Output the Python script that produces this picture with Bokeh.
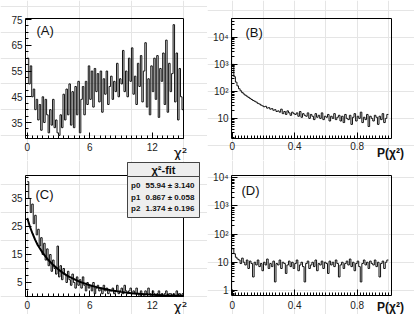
import math
import numpy as np
from bokeh.plotting import figure
from bokeh.layouts import gridplot
from bokeh.models import (FixedTicker, Label, BoxAnnotation, Range1d, LinearAxis, LogAxis)
from bokeh.embed import file_html
from bokeh.resources import INLINE

# ---------------- data ----------------
# (A) chi2 histogram, 105 bins over [0, 15]
hist_a = [
    60, 50, 57, 45, 48, 40, 44,
    36, 42, 32, 45, 35, 44, 38,
    31, 40, 34, 44, 33, 36, 31,
    30, 38, 33, 46, 36, 48, 38,
    50, 34, 47, 33, 49, 38, 51,
    31, 44, 49, 38, 51, 42, 57,
    44, 55, 41, 56, 47, 54, 43,
    55, 39, 52, 46, 55, 42, 49,
    53, 44, 51, 47, 58, 45, 52,
    50, 63, 47, 55, 45, 60, 51,
    64, 46, 53, 42, 58, 49, 61,
    43, 55, 66, 41, 52, 38, 57,
    47, 60, 44, 61, 37, 56, 51,
    62, 42, 67, 39, 58, 47, 54,
    73, 43, 62, 36, 56, 45, 40,
]
# (B) P(chi2) histogram, 100 bins over [0, 1]
hist_b = [
    1000, 350, 220, 160, 125, 105, 90, 80, 72, 66,
    60, 55, 50, 46, 43, 40, 36, 34, 31, 29,
    27, 28, 24, 25, 22, 23, 20, 21, 18, 19,
    17, 22, 15, 18, 14, 19, 16, 13, 17, 15,
    14, 16, 12, 18, 11, 15, 13, 12, 16, 10,
    14, 12, 9, 15, 11, 13, 10, 16, 9, 12,
    11, 14, 8, 12, 10, 15, 9, 11, 13, 8,
    12, 7, 14, 10, 9, 13, 6, 11, 15, 8,
    12, 10, 17, 7, 11, 9, 14, 5, 12, 10,
    8, 13, 11, 6, 12, 9, 15, 7, 10, 14,
]
# (C) chi2 histogram, 105 bins over [0, 15]
hist_c = [
    41, 35, 30, 33, 26, 29, 22,
    24, 18, 21, 15, 19, 13, 17,
    11, 15, 9, 13, 10, 8, 18,
    7, 11, 6, 10, 8, 5, 9,
    6, 4, 8, 5, 3, 7, 4,
    6, 3, 7, 4, 2, 5, 3,
    4, 2, 5, 1, 3, 4, 2,
    3, 1, 4, 2, 3, 1, 2,
    2, 3, 1, 2, 4, 1, 2,
    3, 1, 4, 2, 1, 2, 3,
    1, 2, 1, 3, 1, 0, 2,
    1, 0, 2, 1, 3, 1, 0,
    2, 1, 0, 1, 2, 0, 1,
    0, 1, 2, 0, 1, 1, 0,
    1, 0, 2, 0, 1, 0, 1,
]
# fit curve
fit_x = [0, 0.25, 0.5, 0.75, 1, 1.5, 2, 2.5, 3, 3.5, 4, 5, 6, 7, 8, 9, 10, 11, 12, 13, 14, 15]
fit_y = [28, 25, 22.5, 20.3, 18.4, 15.5, 13.1, 11.2, 9.6, 8.2, 7.1, 5.3, 4.0, 3.0, 2.2, 1.65,
         1.2, 0.9, 0.65, 0.48, 0.35, 0.25]
# (D) P(chi2) histogram, 100 bins over [0, 1]
hist_d = [
    30, 20, 15, 13, 12, 9, 14, 10, 8, 12,
    6, 11, 9, 3, 10, 8, 12, 7, 9, 5,
    10, 8, 13, 6, 9, 7, 11, 2, 9, 8,
    12, 6, 10, 9, 4, 8, 11, 7, 10, 6,
    9, 12, 5, 8, 10, 7, 2, 9, 11, 6,
    8, 10, 7, 12, 5, 9, 8, 11, 6, 10,
    9, 4, 11, 8, 10, 7, 12, 9, 3, 8,
    10, 6, 9, 11, 8, 13, 7, 10, 5, 9,
    11, 7, 2, 9, 12, 8, 10, 6, 11, 9,
    8, 12, 7, 10, 3, 9, 11, 6, 10, 12,
]
fit_names = ["p0", "p1", "p2"]
fit_values = ["55.94 \u00b1 3.140", "0.867 \u00b1 0.058", "1.374 \u00b1 0.196"]
fit_title = "\u03c7\u00b2-fit"

chi_xticks = [0, 6, 12]
a_yticks = [35, 45, 55, 65, 75]
c_yticks = [5, 15, 25, 35]
p_xticks = [0, 0.4, 0.8]
p_xlabels = {0: "0", 0.4: "0.4", 0.8: "0.8"}
b_yticks = [10, 100, 1000, 10000]
d_yticks = [1, 10, 100, 1000, 10000]
log_labels = {1: "1", 10: "10", 100: "10\u00b2", 1000: "10\u00b3", 10000: "10\u2074"}
panel_tags = ["(A)", "(B)", "(C)", "(D)"]
chi_label = "\u03c7\u00b2"
p_label = "P(\u03c7\u00b2)"

FONT = "Liberation Sans"


def full_range(v0, v1, p_lo, p_hi, size, log=False, vertical=False):
    """Extend the visible data range [v0, v1] (drawn between pixels p_lo..p_hi of a
    canvas 'size' pixels long) to the whole canvas."""
    a, b = (math.log10(v0), math.log10(v1)) if log else (v0, v1)
    s = (b - a) / (p_hi - p_lo)
    if vertical:  # p_lo = top pixel, p_hi = bottom pixel (from canvas top)
        lo, hi = a - (size - p_hi) * s, b + p_lo * s
    else:
        lo, hi = a - p_lo * s, b + (size - p_hi) * s
    if log:
        return 10 ** lo, 10 ** hi
    return lo, hi


def panel(W, H, vx, vy, box, ylog, xticks, xminor, yticks, yminor,
          xover=None, yover=None, xstand=4, ystand=3):
    l, r, t, b = box
    fx = full_range(vx[0], vx[1], l, r, W)
    fy = full_range(vy[0], vy[1], t, b, H, log=ylog, vertical=True)
    p = figure(width=W, height=H, x_range=Range1d(*fx), y_range=Range1d(*fy),
               y_axis_type="log" if ylog else "linear",
               x_axis_location=None, y_axis_location=None,
               min_border=0, output_backend="svg", toolbar_location=None)
    p.outline_line_color = None
    p.background_fill_color = "white"
    p.border_fill_color = "white"
    xa = LinearAxis(fixed_location=vy[0], ticker=FixedTicker(ticks=xticks, minor_ticks=xminor))
    ya_cls = LogAxis if ylog else LinearAxis
    ya = ya_cls(fixed_location=vx[0], ticker=FixedTicker(ticks=yticks, minor_ticks=yminor))
    if xover:
        xa.major_label_overrides = xover
    if yover:
        ya.major_label_overrides = yover
    for ax in (xa, ya):
        ax.major_tick_in = 6
        ax.major_tick_out = 0
        ax.minor_tick_in = 3
        ax.minor_tick_out = 0
        ax.axis_line_color = None
        ax.major_tick_line_color = "black"
        ax.minor_tick_line_color = "black"
        ax.major_label_text_font = FONT
        ax.major_label_text_font_size = "10px"
        ax.major_label_text_color = "#222222"
    xa.major_label_standoff = xstand
    ya.major_label_standoff = ystand
    p.add_layout(xa, "below")
    p.add_layout(ya, "left")
    # plot frame
    p.add_layout(BoxAnnotation(left=vx[0], right=vx[1], bottom=vy[0], top=vy[1],
                               fill_color=None, fill_alpha=0, line_color="black",
                               line_alpha=1, line_width=1))
    return p


def txt(p, H, x, y_top, text, size, bold=False, align="left", baseline="middle",
        font=FONT, color="#111111"):
    p.add_layout(Label(x=x, y=H - y_top, x_units="screen", y_units="screen", text=text,
                       text_font=font, text_font_size=size,
                       text_font_style="bold" if bold else "normal",
                       text_align=align, text_baseline=baseline, text_color=color))


edges_chi = list(np.linspace(0, 15, len(hist_a) + 1))
edges_p = list(np.linspace(0, 1, len(hist_b) + 1))

chi_minor = list(np.arange(0, 15.01, 0.5))
p_minor = [float(v) for v in np.round(np.arange(0, 1.0001, 0.02), 3)]


def log_minor(lo, hi):
    return [m * 10.0 ** e for e in range(-1, 5) for m in range(2, 10) if lo <= m * 10.0 ** e <= hi]


W1, W2, H1, H2 = 207, 207, 160, 154
TOP2 = H1  # page y of the second row

# ---------------- (A) ----------------
vxA, vyA = (-0.17, 15.0), (28.8, 75.4)
pA = panel(W1, H1, vxA, vyA, (25, 183, 18, 138), False, chi_xticks, chi_minor,
           a_yticks, list(np.arange(30, 76, 2.5)), xstand=4, ystand=3)
pA.step(x=edges_chi, y=hist_a + [hist_a[-1]], mode="after", line_color="#111111", line_width=1)
txt(pA, H1, 36, 30, panel_tags[0], "13px")
txt(pA, H1, 180, 152, chi_label, "14px", font="DejaVu Sans", align="center", baseline="alphabetic")

# ---------------- (B) ----------------
vxB, vyB = (-0.005, 1.02), (1.8, 5e4)
pB = panel(W2, H1, vxB, vyB, (24, 184, 18, 138), True, p_xticks, p_minor,
           b_yticks, log_minor(*vyB), p_xlabels, log_labels, xstand=3, ystand=3)
pB.step(x=edges_p, y=hist_b + [hist_b[-1]], mode="after", line_color="#111111", line_width=1)
txt(pB, H1, 38, 31.5, panel_tags[1], "13px")
txt(pB, H1, 183, 152.5, p_label, "12px", bold=True, align="center", baseline="alphabetic")

# ---------------- (C) ----------------
vxC, vyC = (-0.17, 15.0), (0, 43.2)
pC = panel(W1, H2, vxC, vyC, (25, 183, 175 - TOP2, 296 - TOP2), False, chi_xticks, chi_minor,
           c_yticks, list(np.arange(0, 43, 2.5)), xstand=4, ystand=3)
pC.step(x=edges_chi, y=hist_c + [hist_c[-1]], mode="after", line_color="#111111", line_width=1)
pC.line(fit_x, fit_y, line_color="black", line_width=2)
txt(pC, H2, 35, 193.5 - TOP2, panel_tags[2], "13px")
txt(pC, H2, 180, 306.5 - TOP2, chi_label, "14px", font="DejaVu Sans", align="center",
    baseline="alphabetic")

# fit statistics box (screen units, measured from the canvas bottom)
box_kw = dict(left_units="screen", right_units="screen", top_units="screen", bottom_units="screen",
              fill_color="#eeeeee", fill_alpha=1, line_color="#444444", line_width=1, line_alpha=1)
pC.add_layout(BoxAnnotation(left=127, right=199, bottom=H2 - (217 - TOP2), top=H2 - (162 - TOP2),
                            **box_kw))
pC.add_layout(BoxAnnotation(left=127, right=199, bottom=H2 - (176 - TOP2), top=H2 - (162 - TOP2),
                            **box_kw))
txt(pC, H2, 163, 169 - TOP2, fit_title, "11px", bold=True, align="center")
for i, (nm, val) in enumerate(zip(fit_names, fit_values)):
    yy = 185 - TOP2 + i * 11.5
    txt(pC, H2, 130.5, yy, nm, "8px", bold=True)
    txt(pC, H2, 145, yy, val, "8px", bold=True)

# ---------------- (D) ----------------
vxD, vyD = (-0.005, 1.02), (0.66, 12000)
pD = panel(W2, H2, vxD, vyD, (24, 184, 175 - TOP2, 295 - TOP2), True, p_xticks, p_minor,
           d_yticks, log_minor(*vyD), p_xlabels, log_labels, xstand=5, ystand=3)
pD.step(x=edges_p, y=hist_d + [hist_d[-1]], mode="after", line_color="#111111", line_width=1)
txt(pD, H2, 34, 190 - TOP2, panel_tags[3], "13px")
txt(pD, H2, 183, 306.5 - TOP2, p_label, "12px", bold=True, align="center", baseline="alphabetic")

grid = gridplot([[pA, pB], [pC, pD]], toolbar_location=None)

open("out.html", "w").write(file_html(grid, INLINE))
